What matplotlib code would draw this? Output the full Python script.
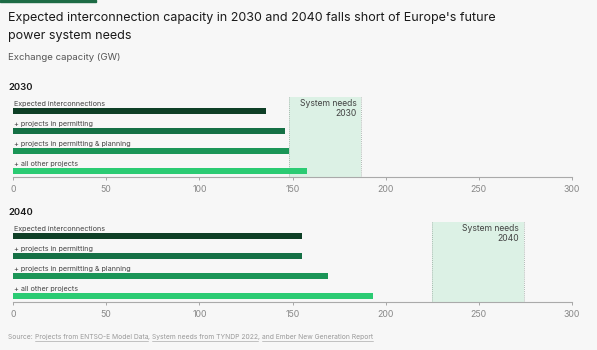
import numpy as np
import matplotlib.pyplot as plt
from matplotlib.patches import Rectangle

# ------------------------------------------------------
labels = ["Expected interconnections", "+ projects in permitting",
          "+ projects in permitting & planning", "+ all other projects"]
values_2030 = [136, 146, 148, 158]
values_2040 = [155, 155, 169, 193]
needs_2030 = (148, 187)
needs_2040 = (225, 274)
xticks = [0, 50, 100, 150, 200, 250, 300]
bar_colors = ["#0e3f26", "#157045", "#1b9557", "#2bcb73"]
# ------------------------------------------------------

plt.rcParams['font.family'] = ['Inter', 'DejaVu Sans']
bg = "#f7f7f7"
fig = plt.figure(figsize=(5.97, 3.5), dpi=100, facecolor=bg)

# thin accent strip top left
fig.patches.append(Rectangle((0, 0.994), 0.16, 0.006, transform=fig.transFigure,
                             color="#1d6b45", zorder=5))

fig.text(8/597, 1 - 18/350, "Expected interconnection capacity in 2030 and 2040 falls short of Europe's future",
         fontsize=9.0, color="#1a1a1a", va="center")
fig.text(8/597, 1 - 36/350, "power system needs",
         fontsize=9.0, color="#1a1a1a", va="center")
fig.text(8/597, 1 - 57/350, "Exchange capacity (GW)", fontsize=6.9, color="#555555", va="center")


def panel(bottom_px, year, values, needs):
    top_px = bottom_px - 80
    ax = fig.add_axes([13/597, 1 - bottom_px/350, 559/597, 80/350])
    ax.set_facecolor(bg)
    y = np.arange(len(values))
    ax.axvspan(needs[0], needs[1], color="#dcf1e5", zorder=0, lw=0)
    for xv in needs:
        ax.axvline(xv, color="#9aa8a0", lw=0.6, ls=(0, (1, 1.5)), zorder=1)
    ax.barh(y, values, height=0.28, color=bar_colors, zorder=2)
    for yi, lab in zip(y, labels):
        ax.text(0.5, yi - 0.2, lab, fontsize=5.2, color="#444444", va="bottom", ha="left")
    ax.text(needs[1] - 2.5, -0.6, "System needs\n" + year, fontsize=6.2, color="#444444",
            ha="right", va="top", linespacing=1.2)
    ax.set_xlim(0, 300)
    ax.set_ylim(3.3, -0.7)
    ax.set_xticks(xticks)
    ax.tick_params(axis="x", length=2, width=0.6, color="#999999", labelsize=6.3,
                   labelcolor="#888888", pad=4)
    ax.set_yticks([])
    for s in ["top", "right", "left"]:
        ax.spines[s].set_visible(False)
    ax.spines["bottom"].set_color("#aaaaaa")
    ax.spines["bottom"].set_linewidth(0.8)
    fig.text(8/597, 1 - (top_px - 10)/350, year, fontsize=6.8, color="#1a1a1a",
             va="center", fontweight="semibold")
    return ax


panel(177, "2030", values_2030, needs_2030)
panel(302, "2040", values_2040, needs_2040)

# source line with underlined links
parts = [("Source: ", False), ("Projects from ENTSO-E Model Data", True), (", ", False),
         ("System needs from TYNDP 2022", True), (", ", False),
         ("and Ember New Generation Report", True)]
renderer = fig.canvas.get_renderer()
x = 8
y_src = 1 - 339/350
for txt, link in parts:
    t = fig.text(x/597, y_src, txt, fontsize=4.85, color="#999999", va="baseline")
    bb = t.get_window_extent(renderer)
    if link:
        fig.add_artist(plt.Line2D([bb.x0/597, bb.x1/597], [y_src - 1.5/350] * 2,
                                  transform=fig.transFigure, color="#999999", lw=0.4))
    x = bb.x1

fig.savefig("out.png", dpi=100, facecolor=bg)
